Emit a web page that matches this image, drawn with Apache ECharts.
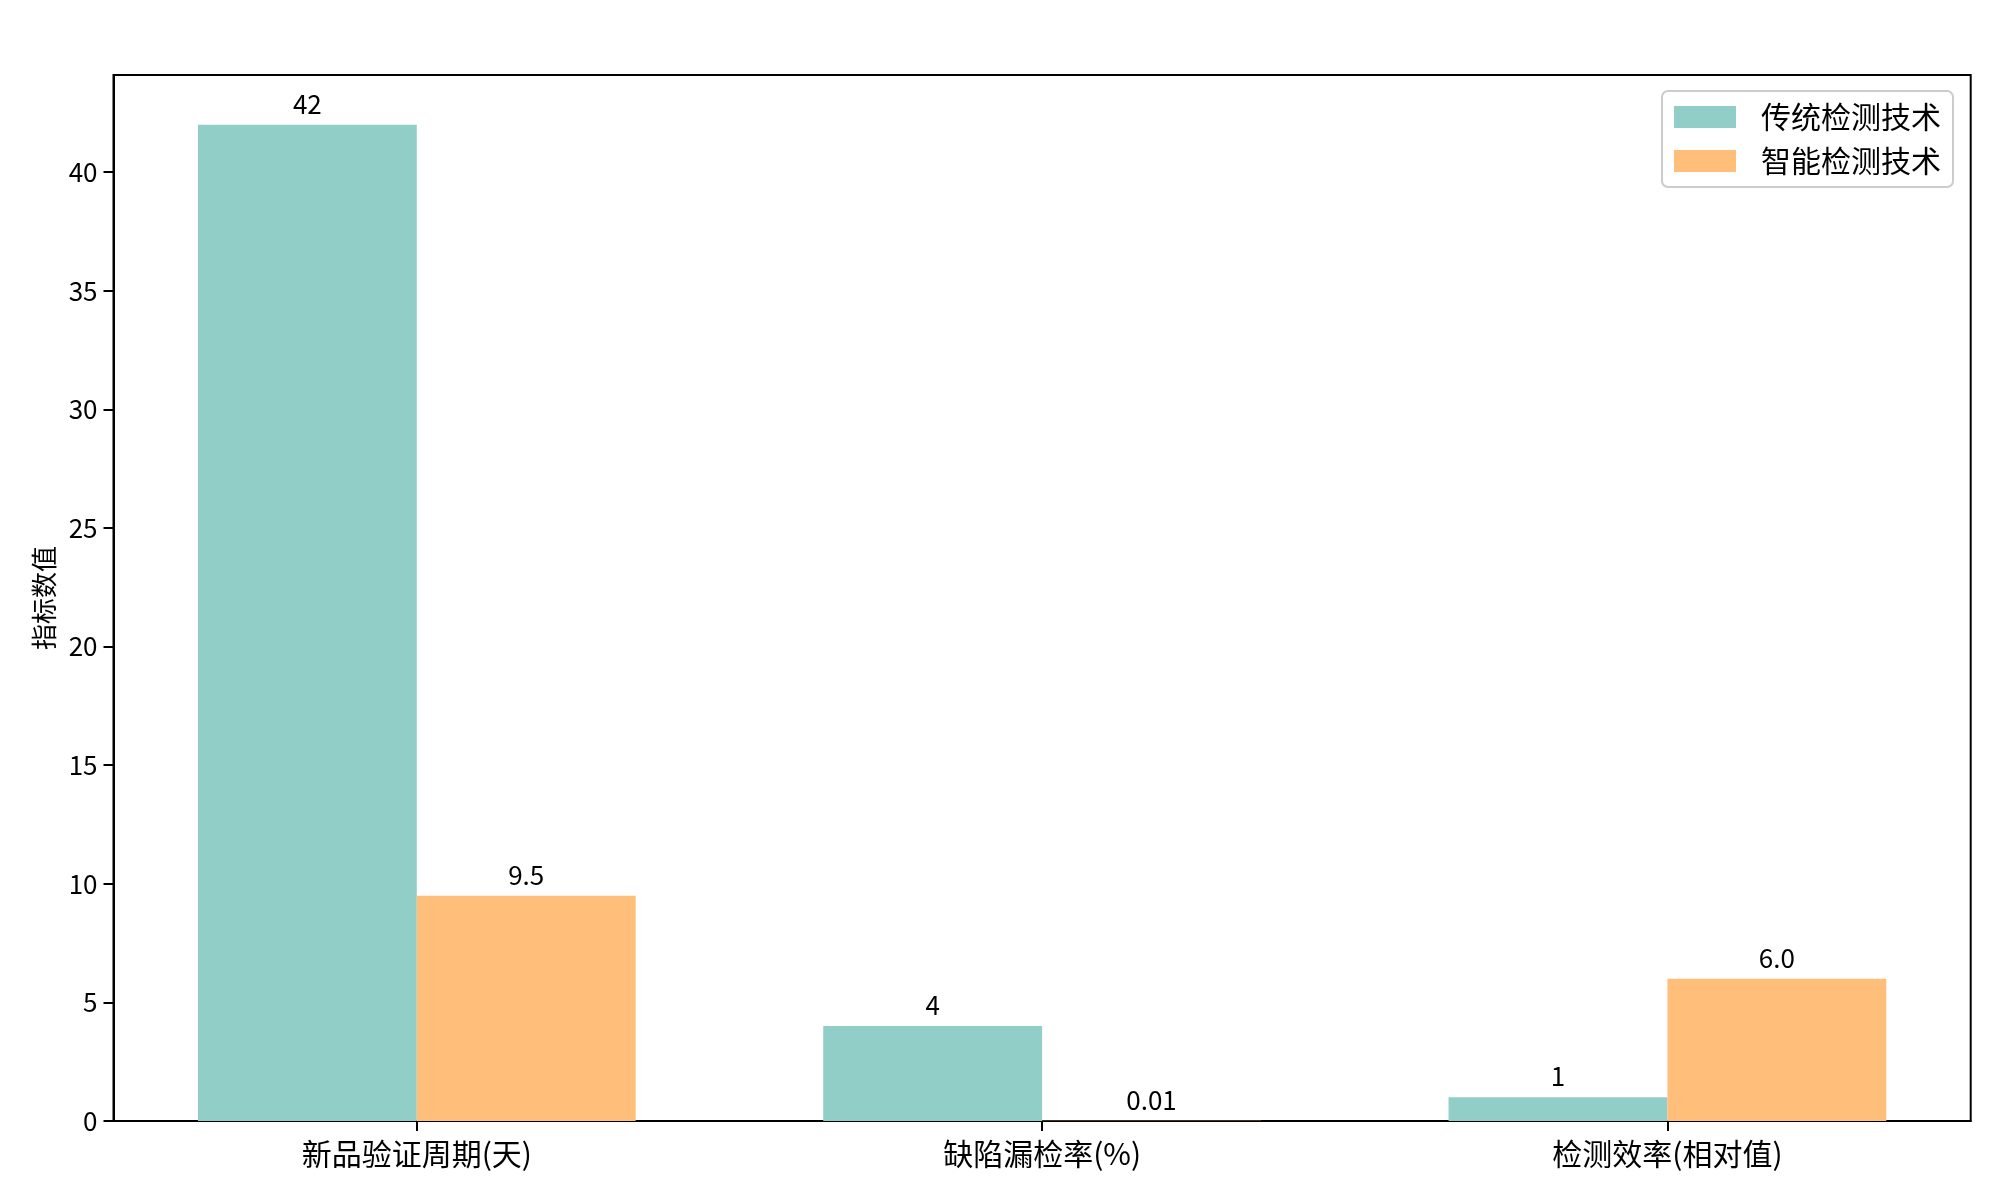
<!DOCTYPE html>
<html><head><meta charset="utf-8">
<script src="https://cdn.jsdelivr.net/npm/echarts@6/dist/echarts.min.js"></script>
<style>html,body{margin:0;padding:0;background:#fff}#c{width:2000px;height:1200px}</style>
</head><body><div id="c"></div>
<script>
const categories = ['新品验证周期(天)', '缺陷漏检率(%)', '检测效率(相对值)'];
const seriesNames = ['传统检测技术', '智能检测技术'];
const traditional = [42, 4, 1];
const smart = [9.5, 0.01, 6.0];
const traditionalLabels = ['42', '4', '1'];
const smartLabels = ['9.5', '0.01', '6.0'];
const yTicks = [0, 5, 10, 15, 20, 25, 30, 35, 40];
const xTicks = [0, 1, 2];

const FONT = '"Noto Sans CJK SC", "DejaVu Sans", sans-serif';
const chart = echarts.init(document.getElementById('c'), null, {renderer: 'canvas'});

function mk(name, vals, labels, color) {
  return {
    name: name, type: 'bar',
    data: vals.map((v, i) => [xTicks[i], v]),
    barWidth: '35%', barGap: '0%',
    itemStyle: {color: color},
    label: {show: true, position: 'top', distance: 8, color: '#000', fontSize: 26, fontFamily: FONT,
      formatter: p => labels[p.dataIndex]},
    emphasis: {disabled: true}
  };
}

chart.setOption({
  animation: false,
  backgroundColor: '#fff',
  grid: {left: 113.5, right: 29.3, top: 75, bottom: 79, show: true, borderColor: '#000', borderWidth: 2, containLabel: false},
  legend: {
    orient: 'vertical', right: 47, top: 91,
    data: seriesNames,
    icon: 'rect', itemWidth: 62, itemHeight: 22, itemGap: 14,
    padding: [11, 12, 11, 12],
    borderColor: '#cccccc', borderWidth: 2, borderRadius: 6, backgroundColor: '#fff',
    textStyle: {fontSize: 30, fontFamily: FONT, color: '#000', padding: [0, 0, 0, 20]},
    selectedMode: false
  },
  xAxis: {
    type: 'value', min: -0.485, max: 2.485,
    axisLine: {show: true, onZero: false, lineStyle: {color: '#000', width: 2}},
    axisTick: {show: true, customValues: xTicks, length: 10, lineStyle: {color: '#000', width: 2}},
    axisLabel: {customValues: xTicks, margin: 18, fontSize: 30, fontFamily: FONT, color: '#000',
      formatter: v => categories[Math.round(v)]},
    splitLine: {show: false}
  },
  yAxis: {
    type: 'value', min: 0, max: 44.1, interval: 5,
    name: '指标数值', nameLocation: 'middle', nameGap: 56, nameRotate: 90,
    nameTextStyle: {fontSize: 26, fontFamily: FONT, color: '#000'},
    axisLine: {show: true, onZero: false, lineStyle: {color: '#000', width: 2}},
    axisTick: {show: true, customValues: yTicks, length: 10, lineStyle: {color: '#000', width: 2}},
    axisLabel: {customValues: yTicks, margin: 16, fontSize: 26, fontFamily: FONT, color: '#000'},
    splitLine: {show: false}
  },
  series: [
    mk(seriesNames[0], traditional, traditionalLabels, '#91CEC8'),
    mk(seriesNames[1], smart, smartLabels, '#FFBE7A')
  ]
});
</script></body></html>
